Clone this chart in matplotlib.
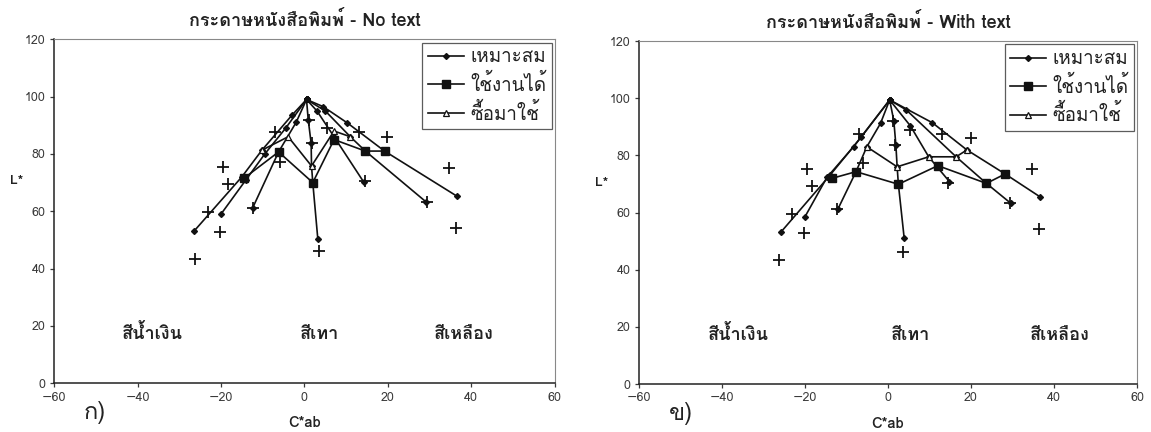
import matplotlib
matplotlib.use("Agg")
import numpy as np
import matplotlib.pyplot as plt
from matplotlib import font_manager
from fontTools.ttLib import TTFont


def find_thai_font():
    # pick the first installed face that actually has Thai glyphs
    for f in font_manager.fontManager.ttflist:
        try:
            cmap = TTFont(f.fname, fontNumber=0, lazy=True).getBestCmap()
        except Exception:
            continue
        if cmap and 0x0E01 in cmap and 0x0E49 in cmap:
            return f.name
    return None


thai = find_thai_font()
families = [thai, "DejaVu Sans"] if thai else ["DejaVu Sans"]
plt.rcParams["font.family"] = families

# ---- data ------------------------------------------------------------
series_names = ["เหมาะสม", "ใช้งานได้", "ซื้อมาใช้"]
hue_names = ["สีน้ำเงิน", "สีเทา", "สีเหลือง"]
titles = ["กระดาษหนังสือพิมพ์ - No text", "กระดาษหนังสือพิมพ์ - With text"]
tags = ["ก)", "ข)"]

# radial lines from the white point out to each hue ramp end (x = C*ab, y = L*)
radial_nt = [
    [(0.5, 99.0), (-3.0, 93.5), (-10.2, 81.3), (-15.0, 72.0), (-26.5, 53.0)],
    [(0.5, 99.0), (-4.5, 89.0), (-9.5, 80.0), (-14.0, 71.0), (-20.0, 59.0)],
    [(0.5, 99.0), (-2.0, 91.0), (-6.2, 80.7), (-12.4, 61.2)],
    [(0.5, 99.0), (0.9, 92.0), (1.6, 83.8), (1.7, 75.8), (2.0, 70.0), (3.2, 50.4)],
    [(0.5, 99.0), (3.0, 95.0), (7.1, 86.0), (14.2, 70.2)],
    [(0.5, 99.0), (5.0, 95.0), (11.0, 86.0), (14.6, 81.0), (29.2, 63.2)],
    [(0.5, 99.0), (4.5, 96.5), (10.3, 90.8), (19.2, 81.0), (36.5, 65.3)],
]
radial_wt = [
    [(0.4, 99.4), (-6.4, 86.5), (-14.0, 73.0), (-25.7, 53.3)],
    [(0.4, 99.4), (-8.3, 83.0), (-14.7, 72.3), (-20.0, 58.5)],
    [(0.4, 99.4), (-1.8, 91.2), (-5.1, 83.0), (-7.7, 74.3), (-12.1, 61.1)],
    [(0.4, 99.4), (1.4, 92.1), (1.9, 83.6), (2.2, 76.0), (2.5, 69.9), (3.9, 51.0)],
    [(0.4, 99.4), (5.4, 90.3), (9.8, 79.5), (14.8, 70.8)],
    [(0.4, 99.4), (4.4, 95.9), (16.4, 79.5), (23.7, 70.2), (29.6, 63.2)],
    [(0.4, 99.4), (10.7, 91.4), (19.0, 81.9), (28.2, 73.5), (36.6, 65.5)],
]

# curves across the three hues
usable_nt = [(-14.5, 71.5), (-6.2, 80.7), (2.0, 70.0), (7.1, 85.0), (14.6, 81.0), (19.2, 81.0)]
bought_nt = [(-10.2, 81.3), (-3.9, 86.0), (1.7, 75.8), (7.1, 88.0), (11.0, 86.0)]
usable_wt = [(-13.4, 72.0), (-7.7, 74.3), (2.5, 69.9), (12.0, 76.4), (23.7, 70.2), (28.2, 73.5)]
bought_wt = [(-5.1, 83.0), (2.2, 76.0), (9.8, 79.5), (16.4, 79.5), (19.0, 81.9)]

# reference points drawn as plain crosses
ref_c = [-26.3, -20.3, -19.4, -18.4, -23.2, -12.3, 3.5, 14.5, 29.4, 34.6, 36.4, 19.9,
         1.2, 1.7, -7.0, -5.9, 5.3, 13.0]
ref_l = [43.5, 52.7, 75.3, 69.4, 59.6, 61.2, 46.1, 70.5, 63.2, 75.2, 54.3, 86.0,
         92.0, 83.7, 87.5, 77.3, 89.0, 87.5]

panels = [
    (radial_nt, usable_nt, bought_nt),
    (radial_wt, usable_wt, bought_wt),
]

fig = plt.figure(figsize=(11.51, 4.32), dpi=100)
axes_pos = [[0.047, 0.113, 0.435, 0.796], [0.555, 0.111, 0.433, 0.794]]
hue_x = [[-36.5, 3.6, 38.2], [-36.0, 5.3, 41.4]]
tick_grey = "#3a3a3a"

for k, (radial, usable, bought) in enumerate(panels):
    ax = fig.add_axes(axes_pos[k])
    for i, line in enumerate(radial):
        c, l = zip(*line)
        ax.plot(c, l, color="#111111", lw=1.2, marker="D", ms=3, mfc="#111111",
                label=series_names[0] if i == 0 else None, zorder=3)
    c, l = zip(*usable)
    ax.plot(c, l, color="#111111", lw=1.2, marker="s", ms=5.5, mfc="#111111",
            label=series_names[1], zorder=4)
    c, l = zip(*bought)
    ax.plot(c, l, color="#111111", lw=1.2, marker="^", ms=4.5, mfc="white",
            mew=0.9, label=series_names[2], zorder=4)
    ax.plot(ref_c, ref_l, ls="none", marker="+", ms=8, mew=1.3, color="#111111", zorder=5)

    ax.set_xlim(-60, 60)
    ax.set_ylim(0, 120)
    ax.set_xticks(np.arange(-60, 61, 20))
    ax.set_yticks(np.arange(0, 121, 20))
    ax.tick_params(labelsize=9, length=3, width=0.9, direction="out",
                   colors=tick_grey, pad=3)
    for s in ax.spines.values():
        s.set_linewidth(0.8)
        s.set_color("#888888")
    for side in ("left", "bottom"):
        ax.spines[side].set_color("#222222")
        ax.spines[side].set_linewidth(1.1)

    ax.text(0.5, 1.055, titles[k], transform=ax.transAxes, fontsize=13,
            fontweight="bold", ha="center", va="center", color="#222222")
    ax.set_xlabel("C*ab", fontsize=10.5, fontweight="bold", color="#222222")
    ax.xaxis.set_label_coords(0.5, -0.095)
    ax.set_ylabel("L*", fontsize=10, fontweight="bold", rotation=0, color="#222222")
    ax.yaxis.set_label_coords(-0.075, 0.57)

    for x, name in zip(hue_x[k], hue_names):
        ax.text(x, 17.3, name, fontsize=13, fontweight="bold", ha="center",
                va="center", color="#222222")
    ax.text(0.082 if k == 0 else 0.085, -0.085, tags[k], transform=ax.transAxes,
            fontsize=17, ha="center", va="center", color="#222222")

    leg = ax.legend(loc="upper right", bbox_to_anchor=(0.994, 0.99), fontsize=13.5,
                    frameon=True, fancybox=False, borderpad=0.3, handlelength=1.9,
                    handletextpad=0.35, labelspacing=0.4, borderaxespad=0)
    leg.get_frame().set_edgecolor("#333333")
    leg.get_frame().set_linewidth(0.9)
    for t in leg.get_texts():
        t.set_color("#222222")

fig.savefig("out.png", dpi=100)
